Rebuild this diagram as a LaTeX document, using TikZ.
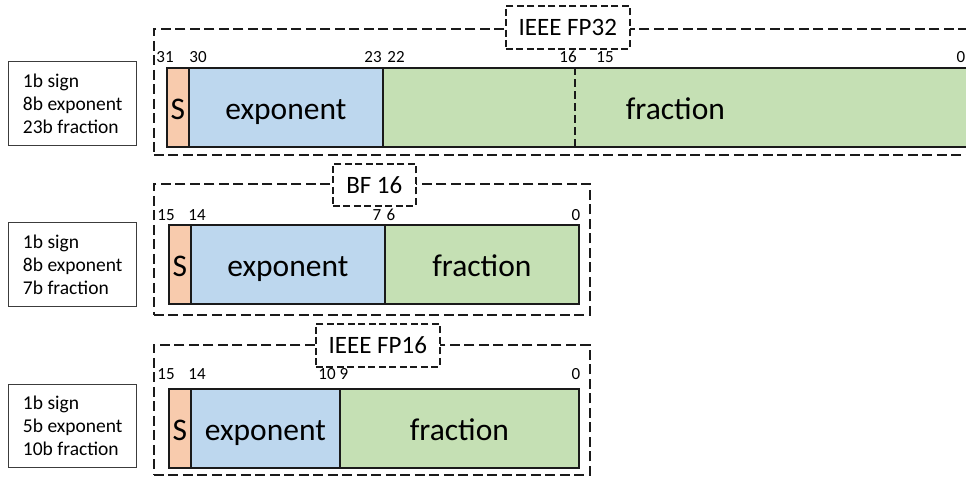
\documentclass[tikz,border=0pt]{standalone}
\usepackage{fontspec}
\setmainfont{Carlito}
\definecolor{sgncol}{HTML}{F8CBAD}
\definecolor{expcol}{HTML}{BDD7EE}
\definecolor{fraccol}{HTML}{C5E0B4}
\definecolor{linecol}{HTML}{1A1A1A}
\begin{document}
\begin{tikzpicture}[x=1pt,y=-1pt,
  seg/.style={draw=linecol, line width=1.7pt, anchor=north west, inner sep=0pt,
    minimum height=79pt, text height=25pt, text depth=1.6pt,
    font=\fontsize{31.5}{36}\selectfont},
  bitlab/.style={anchor=base, inner sep=0pt, font=\fontsize{17}{19}\selectfont},
  info/.style={draw=linecol!85, line width=1.4pt, anchor=north west, minimum width=128pt,
    inner sep=0pt, align=left, font=\fontsize{19.5}{23}\selectfont},
  frame/.style={draw=linecol, dash pattern=on 10pt off 4.5pt, line width=1.8pt,
    anchor=north west, inner sep=0pt},
  titlebox/.style={draw=linecol, fill=white, dash pattern=on 7pt off 3.5pt, line width=1.6pt,
    anchor=north west, inner sep=0pt, font=\fontsize{25}{28}\selectfont},
  divline/.style={draw=linecol, dash pattern=on 8pt off 4pt, line width=1.6pt}
]
\useasboundingbox (0,0) rectangle (966,477);
\clip (0,0) rectangle (966,477);

% ---------- IEEE FP32 ----------
\node[info, minimum height=84pt] (i32) at (8,61) {1b sign\\8b exponent\\23b fraction};
\node[frame, minimum width=830pt, minimum height=126pt] (f32) at (153,28) {};
\node[seg, fill=sgncol, minimum width=22pt] (s32) at (166,67) {S};
\node[seg, fill=expcol, minimum width=194pt] (e32) at (188,67) {exponent};
\node[seg, fill=fraccol, minimum width=585pt] (m32) at (382,67) {fraction};
\coordinate (d32a) at (575,67);
\coordinate (d32b) at (575,146);
\draw[divline] (d32a) -- (d32b);
\node[titlebox, minimum width=124pt, minimum height=43pt] (t32) at (505,5) {IEEE FP32};
\node[bitlab] (b31) at (165,62.5) {31};
\node[bitlab] (b30) at (198,62.5) {30};
\node[bitlab] (b23) at (373,62.5) {23};
\node[bitlab] (b22) at (396,62.5) {22};
\node[bitlab] (b16) at (568,62.5) {16};
\node[bitlab] (b15) at (605,62.5) {15};
\node[bitlab] (b0a) at (961,62.5) {0};

% ---------- BF 16 ----------
\node[info, minimum height=84pt] (ibf) at (8,222) {1b sign\\8b exponent\\7b fraction};
\node[frame, minimum width=436pt, minimum height=131pt] (fbf) at (153,183) {};
\node[seg, fill=sgncol, minimum width=22pt] (sbf) at (168,224) {S};
\node[seg, fill=expcol, minimum width=194pt] (ebf) at (190,224) {exponent};
\node[seg, fill=fraccol, minimum width=194pt] (mbf) at (384,224) {fraction};
\node[titlebox, minimum width=83pt, minimum height=42pt] (tbf) at (332,163) {BF 16};
\node[bitlab] (c15) at (166,220) {15};
\node[bitlab] (c14) at (197,220) {14};
\node[bitlab] (c7) at (377,220) {7};
\node[bitlab] (c6) at (391,220) {6};
\node[bitlab] (c0) at (576,220) {0};

% ---------- IEEE FP16 ----------
\node[info, minimum height=83pt] (i16) at (8,384) {1b sign\\5b exponent\\10b fraction};
\node[frame, minimum width=436pt, minimum height=130pt] (f16) at (153,344) {};
\node[seg, fill=sgncol, minimum width=22pt] (s16) at (168,388) {S};
\node[seg, fill=expcol, minimum width=149pt] (e16) at (190,388) {exponent};
\node[seg, fill=fraccol, minimum width=239pt] (m16) at (339,388) {fraction};
\node[titlebox, minimum width=124pt, minimum height=43pt] (t16) at (315,323) {IEEE FP16};
\node[bitlab] (h15) at (166,379) {15};
\node[bitlab] (h14) at (197,379) {14};
\node[bitlab] (h10) at (327,379) {10};
\node[bitlab] (h9) at (344,379) {9};
\node[bitlab] (h0) at (576,379) {0};
\end{tikzpicture}
\end{document}
